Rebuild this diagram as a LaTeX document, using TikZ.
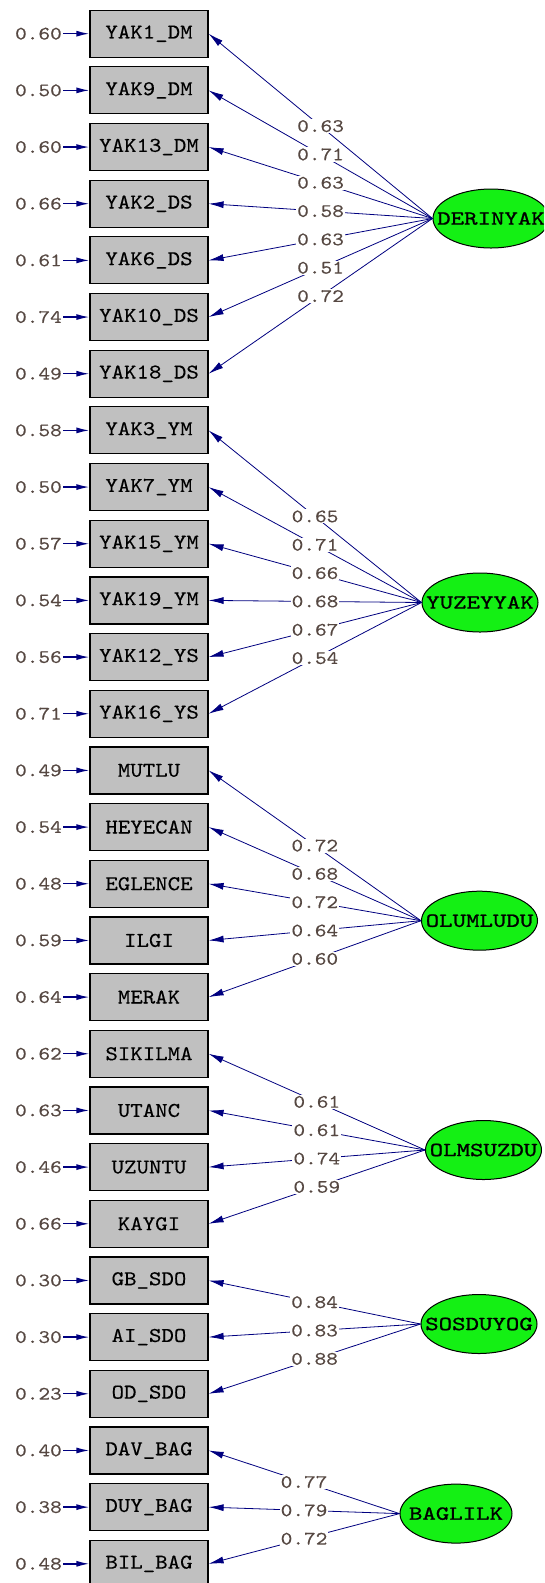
\documentclass[tikz,border=0pt]{standalone}
\usepackage{fontspec}
\usetikzlibrary{shapes.geometric,arrows.meta}

% typewriter faces for the path diagram
\newfontfamily\obsfont[FakeStretch=1.13,FakeBold=0.3]{lmmono10-regular.otf}
\newfontfamily\numfont[FakeStretch=1.17,FakeBold=0.3]{lmmono10-regular.otf}
\newfontfamily\latfont[FakeStretch=1.28,FakeBold=1.1]{lmmono10-regular.otf}

\definecolor{pathblue}{HTML}{000080}
\definecolor{boxgray}{HTML}{C0C0C0}
\definecolor{latgreen}{HTML}{14F014}
\definecolor{numcol}{HTML}{564842}

\begin{document}
\begin{tikzpicture}[
  x=1pt, y=-1pt,
  obs/.style={draw=black, line width=1.2pt, fill=boxgray, minimum width=118pt,
    minimum height=47pt, inner sep=0pt, font={\obsfont\fontsize{21pt}{21pt}\selectfont}},
  lat/.style={ellipse, draw=black, line width=1pt, fill=latgreen, minimum width=116pt,
    minimum height=59pt, inner sep=0pt, font={\latfont\fontsize{20pt}{20pt}\selectfont}},
  err/.style={anchor=east, inner sep=1pt, text=numcol, font={\numfont\fontsize{19pt}{19pt}\selectfont}},
  load/.style={fill=white, inner sep=1pt, text=numcol, font={\numfont\fontsize{19pt}{19pt}\selectfont}},
  errarrow/.style={draw=pathblue, line width=1.4pt, -{Latex[length=13pt,width=6pt]}},
  loadarrow/.style={draw=pathblue, line width=0.8pt, -{Latex[length=15pt,width=7pt]}}
]
\useasboundingbox (0,0) rectangle (544,1583);
\fill[white] (0,0) rectangle (544,1583);
\clip (0,0) rectangle (544,1583);

% Observed variables with their error variances
\foreach \i/\name/\err in {
  0/YAK1\_DM/0.60, 1/YAK9\_DM/0.50, 2/YAK13\_DM/0.60, 3/YAK2\_DS/0.66,
  4/YAK6\_DS/0.61, 5/YAK10\_DS/0.74, 6/YAK18\_DS/0.49,
  7/YAK3\_YM/0.58, 8/YAK7\_YM/0.50, 9/YAK15\_YM/0.57, 10/YAK19\_YM/0.54,
  11/YAK12\_YS/0.56, 12/YAK16\_YS/0.71,
  13/MUTLU/0.49, 14/HEYECAN/0.54, 15/EGLENCE/0.48, 16/ILGI/0.59, 17/MERAK/0.64,
  18/SIKILMA/0.62, 19/UTANC/0.63, 20/UZUNTU/0.46, 21/KAYGI/0.66,
  22/GB\_SDO/0.30, 23/AI\_SDO/0.30, 24/OD\_SDO/0.23,
  25/DAV\_BAG/0.40, 26/DUY\_BAG/0.38, 27/BIL\_BAG/0.48} {
  \node[obs] (o\i) at (149,{33.7+56.67*\i}) {\name};
  \node[err] (e\i) at (63,{33.7+56.67*\i}) {\err};
  \draw[errarrow] (e\i) -- (o\i.west);
}

% Latent factors
\node[lat] (derinyak) at (491,218.5) {\makebox[0pt]{DERINYAK}};
\node[lat] (yuzeyyak) at (480,602.5) {\makebox[0pt]{YUZEYYAK}};
\node[lat] (olumludu) at (479.5,920.7) {\makebox[0pt]{OLUMLUDU}};
\node[lat] (olmsuzdu) at (483.5,1150) {\makebox[0pt]{OLMSUZDU}};
\node[lat] (sosduyog) at (479,1324) {\makebox[0pt]{SOSDUYOG}};
\node[lat, minimum width=112pt] (baglilk) at (456,1513.6) {\makebox[0pt]{BAGLILK}};

% Loadings: arrows first, then the values on top
\def\loadings{
  0/derinyak/0.63, 1/derinyak/0.71, 2/derinyak/0.63, 3/derinyak/0.58,
  4/derinyak/0.63, 5/derinyak/0.51, 6/derinyak/0.72,
  7/yuzeyyak/0.65, 8/yuzeyyak/0.71, 9/yuzeyyak/0.66, 10/yuzeyyak/0.68,
  11/yuzeyyak/0.67, 12/yuzeyyak/0.54,
  13/olumludu/0.72, 14/olumludu/0.68, 15/olumludu/0.72, 16/olumludu/0.64, 17/olumludu/0.60,
  18/olmsuzdu/0.61, 19/olmsuzdu/0.61, 20/olmsuzdu/0.74, 21/olmsuzdu/0.59,
  22/sosduyog/0.84, 23/sosduyog/0.83, 24/sosduyog/0.88,
  25/baglilk/0.77, 26/baglilk/0.79, 27/baglilk/0.72}
\foreach \i/\lv/\val in \loadings {
  \draw[loadarrow] (\lv.west) -- (o\i.east);
}
\foreach \i/\lv/\val in \loadings {
  \path (\lv.west) -- (o\i.east) node[load,pos=0.5] (l\i) {\val};
}

\end{tikzpicture}
\end{document}
